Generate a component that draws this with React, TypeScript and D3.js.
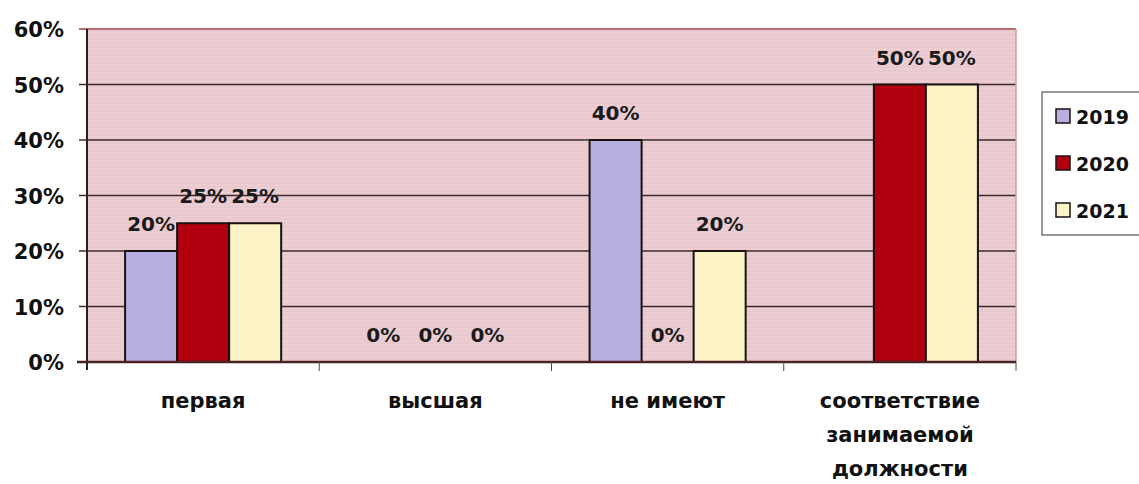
import React, { useEffect, useRef } from "react";
import * as d3 from "d3";

const categories = ["первая", "высшая", "не имеют", "соответствие\nзанимаемой\nдолжности"];
const seriesNames = ["2019", "2020", "2021"];
const values2019 = [0.2, 0, 0.4, null];
const values2020 = [0.25, 0, 0, 0.5];
const values2021 = [0.25, 0, 0.2, 0.5];
const yTicks = [0, 0.1, 0.2, 0.3, 0.4, 0.5, 0.6];
const colors = ["#b8afe0", "#b0000f", "#fcf4c6"];

function App() {
  const ref = useRef<SVGSVGElement>(null);

  useEffect(() => {
    const svg = d3.select(ref.current);
    svg.selectAll("*").remove();

    const left = 87, right = 1016, top = 29, bottom = 362;
    const font = "'DejaVu Sans', sans-serif";
    const series = [values2019, values2020, values2021];

    const x = d3.scaleBand().domain(categories).range([left, right])
      .paddingInner(0.328).paddingOuter(0.164);
    const xs = d3.scaleBand().domain(seriesNames).range([0, x.bandwidth()]);
    const y = d3.scaleLinear().domain([0, 0.6]).range([bottom, top]);

    // plot background
    svg.append("rect").attr("x", left).attr("y", top)
      .attr("width", right - left).attr("height", bottom - top)
      .attr("fill", "#edcdd2");
    // faint scan stripes
    const stripes = d3.range(top + 2, bottom, 4);
    svg.append("g").selectAll("line").data(stripes).enter().append("line")
      .attr("x1", left).attr("x2", right)
      .attr("y1", d => d).attr("y2", d => d)
      .attr("stroke", "#dcc2cb").attr("stroke-width", 1).attr("opacity", 0.6);

    // gridlines
    svg.append("g").selectAll("line").data(yTicks.slice(1, -1)).enter().append("line")
      .attr("x1", left - 8).attr("x2", right)
      .attr("y1", d => y(d)).attr("y2", d => y(d))
      .attr("stroke", "#3d2a2c").attr("stroke-width", 1.5);

    // top and right borders
    svg.append("line").attr("x1", left - 8).attr("x2", right)
      .attr("y1", top).attr("y2", top)
      .attr("stroke", "#b86a70").attr("stroke-width", 2);
    svg.append("line").attr("x1", right).attr("x2", right)
      .attr("y1", top).attr("y2", bottom)
      .attr("stroke", "#d89aa2").attr("stroke-width", 1.5);

    // bars
    categories.forEach((c, ci) => {
      seriesNames.forEach((s, si) => {
        const v = series[si][ci];
        if (v === null) return;
        const bx = (x(c) as number) + (xs(s) as number);
        if (v > 0) {
          svg.append("rect")
            .attr("x", bx).attr("y", y(v))
            .attr("width", xs.bandwidth()).attr("height", y(0) - y(v))
            .attr("fill", colors[si]).attr("stroke", "#1a1212").attr("stroke-width", 2);
        }
        svg.append("text")
          .attr("x", bx + xs.bandwidth() / 2).attr("y", y(v) - 20)
          .attr("text-anchor", "middle")
          .attr("font-family", font).attr("font-weight", 700).attr("font-size", 20)
          .attr("fill", "#1a1a1a")
          .text(Math.round(v * 100) + "%");
      });
    });

    // axes
    svg.append("line").attr("x1", left).attr("x2", left)
      .attr("y1", top).attr("y2", bottom + 8)
      .attr("stroke", "#2a1e1e").attr("stroke-width", 2);
    svg.append("line").attr("x1", left - 10).attr("x2", right)
      .attr("y1", bottom).attr("y2", bottom)
      .attr("stroke", "#4a2226").attr("stroke-width", 2.5);
    const bounds = categories.map((c) => (x(c) as number) - x.step() * 0.164)
      .concat([right]);
    svg.append("g").selectAll("line").data(bounds.slice(1)).enter().append("line")
      .attr("x1", d => d).attr("x2", d => d)
      .attr("y1", bottom).attr("y2", bottom + 9)
      .attr("stroke", "#5a4444").attr("stroke-width", 1);

    // y labels
    svg.append("g").selectAll("text").data(yTicks).enter().append("text")
      .attr("x", 64).attr("y", d => y(d) + 8)
      .attr("text-anchor", "end")
      .attr("font-family", font).attr("font-weight", 700).attr("font-size", 21)
      .attr("fill", "#111")
      .text(d => Math.round(d * 100) + "%");

    // x labels
    categories.forEach((c) => {
      const lines = c.split("\n");
      const t = svg.append("text")
        .attr("text-anchor", "middle")
        .attr("font-family", font).attr("font-weight", 700).attr("font-size", 21)
        .attr("fill", "#111");
      lines.forEach((l, i) => {
        t.append("tspan")
          .attr("x", (x(c) as number) + x.bandwidth() / 2)
          .attr("y", 408 + i * 34)
          .text(l);
      });
    });

    // legend
    svg.append("rect").attr("x", 1042).attr("y", 92)
      .attr("width", 110).attr("height", 143)
      .attr("fill", "#fff").attr("stroke", "#555").attr("stroke-width", 1.2);
    seriesNames.forEach((s, i) => {
      const cy = 116 + i * 47;
      svg.append("rect").attr("x", 1056).attr("y", cy - 7)
        .attr("width", 14).attr("height", 14)
        .attr("fill", colors[i]).attr("stroke", "#1a1212").attr("stroke-width", 1.5);
      svg.append("text").attr("x", 1076).attr("y", cy + 8)
        .attr("font-family", font).attr("font-weight", 700).attr("font-size", 19)
        .attr("fill", "#111").text(s);
    });
  }, []);

  return (
    <svg ref={ref} width={1139} height={484}
      style={{ position: "absolute", left: 0, top: 0, background: "#fff" }} />
  );
}

export default App;
